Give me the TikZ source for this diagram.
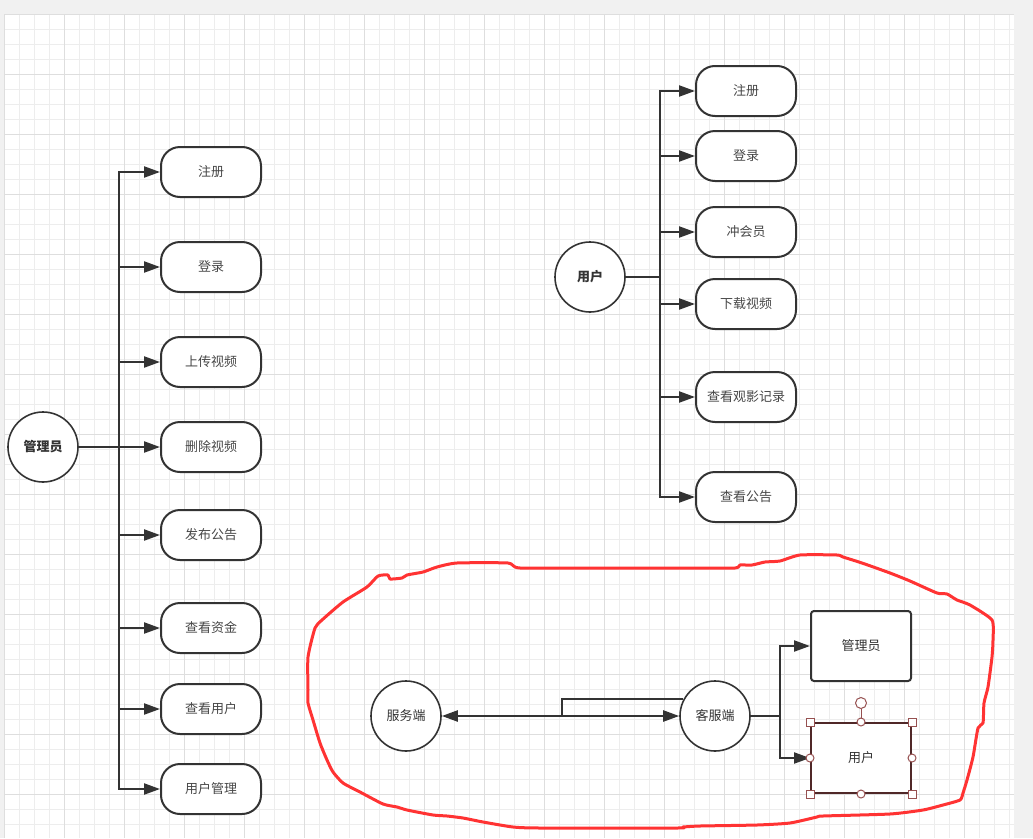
\documentclass[tikz,border=0pt]{standalone}
\usepackage{fontspec}
\newfontfamily\cjk{Noto Sans CJK SC}
\usetikzlibrary{arrows.meta}
\definecolor{ink}{RGB}{51,51,51}
\definecolor{bggray}{RGB}{241,241,241}
\definecolor{gridminor}{RGB}{237,237,237}
\definecolor{gridmajor}{RGB}{222,222,222}
\definecolor{selcol}{RGB}{150,80,80}
\definecolor{selbox}{RGB}{80,40,40}
\definecolor{lassored}{RGB}{255,51,51}
\tikzset{
  op/.style={draw=ink, line width=2pt, rounded corners=19pt, minimum width=100pt, minimum height=50pt, inner sep=0pt, fill=white, text=ink!90},
  role/.style={draw=ink, circle, line width=1.6pt, minimum size=70pt, inner sep=0pt, fill=white, text=ink},
  card/.style={draw=ink, line width=2pt, rounded corners=3pt, minimum width=100pt, minimum height=70pt, inner sep=0pt, fill=white, text=ink},
  link/.style={draw=ink, line width=2.2pt},
  arr/.style={link, -{Triangle[length=16pt,width=11pt]}},
  hsq/.style={draw=selcol, fill=white, line width=1pt, minimum size=8pt, inner sep=0pt},
  hdot/.style={draw=selcol, fill=white, line width=1pt, circle, minimum size=8pt, inner sep=0pt},
  lasso/.style={draw=lassored, line width=3pt, line join=round},
}

\begin{document}
\begin{tikzpicture}[x=1pt, y=-1pt, font=\cjk\fontsize{13}{15}\selectfont]
    \useasboundingbox (0,0) rectangle (1033,838);
    \fill[bggray] (0,0) rectangle (1033,838);
    \fill[white] (4,14) rectangle (1014,838);
    \foreach \gx in {4.7,19.7,...,1012} \draw[gridminor, line width=1pt] (\gx,14) -- (\gx,838);
    \foreach \gy in {14.7,29.7,...,838} \draw[gridminor, line width=1pt] (4,\gy) -- (1014,\gy);
    \foreach \gx in {4.7,64.7,...,1012} \draw[gridmajor, line width=1pt] (\gx,14) -- (\gx,838);
    \foreach \gy in {14.7,74.7,...,838} \draw[gridmajor, line width=1pt] (4,\gy) -- (1014,\gy);

    \node[role] (adm) at(43,447) {\bfseries 管理员};
    \node[op] (a1) at(211,172) {注册};
    \node[op] (a2) at(211,267) {登录};
    \node[op] (a3) at(211,362) {上传视频};
    \node[op] (a4) at(211,447) {删除视频};
    \node[op] (a5) at(211,535) {发布公告};
    \node[op] (a6) at(211,628) {查看资金};
    \node[op] (a7) at(211,709) {查看用户};
    \node[op] (a8) at(211,789) {用户管理};
    \coordinate (lt) at(119,447);
    \draw [link] (adm.east) -- (lt);
    \foreach \b in {a1,a2,a3,a4,a5,a6,a7,a8}
        \draw [arr] (lt) |- (\b.west);

    \node[role] (usr) at(590,277) {\bfseries 用户};
    \node[op] (u1) at(746,91) {注册};
    \node[op] (u2) at(746,156) {登录};
    \node[op] (u3) at(746,232) {冲会员};
    \node[op] (u4) at(746,304) {下载视频};
    \node[op] (u5) at(746,397) {查看观影记录};
    \node[op] (u6) at(746,497) {查看公告};
    \coordinate (rt) at(660,277);
    \draw [link] (usr.east) -- (rt);
    \foreach \b in {u1,u2,u3,u4,u5,u6}
        \draw [arr] (rt) |- (\b.west);

    \draw[lasso] plot[smooth cycle, tension=0.35] coordinates {
        (378,576) (388,575) (390,579) (402,578) (407,575) (423,572) (437,567) (457,563)
        (508,563) (520,568) (600,568) (690,568) (735,568) (740,565) (752,565) (765,562)
        (780,561) (800,555) (837,555) (843,557) (862,563) (890,573) (910,581) (937,593)
        (947,594) (957,600) (970,605) (992,620) (993,640) (992,657) (988,687) (984,703)
        (983,723) (978,728) (973,757) (967,780) (963,793) (960,800) (943,805) (923,810)
        (890,814) (823,816) (817,817) (790,823) (757,825) (700,826) (683,827) (677,828)
        (540,828) (513,827) (483,822) (463,818) (447,816) (433,815) (407,810) (397,807)
        (383,804) (360,792) (343,783) (333,772) (327,760) (320,743) (313,720) (308,703)
        (308,690) (308,657) (315,628) (322,620) (343,602) (367,587)};

    \node[role] (srv) at(406,716) {服务端};
    \node[role] (cli) at(715,716) {客服端};
    \node[card] (badm) at(861,646) {管理员};
    \node[card, draw=selbox, rounded corners=0pt] (busr) at(861,758) {用户};
    \coordinate (bend) at(562,716);
    \coordinate (ct) at(780,716);
    \draw [link, {Triangle[length=16pt,width=11pt]}-{Triangle[length=16pt,width=11pt]}] (srv.east) -- (cli.west);
    \draw [link] (bend) |- (cli.152.8);
    \draw [link] (cli.east) -- (ct);
    \draw [arr] (ct) |- (badm.west);
    \draw [arr] (ct) |- (busr.west);

    \node[hdot, minimum size=11pt] (rot) at(861,703) {};
    \draw [selcol, line width=1pt] (rot) -- (busr.north);
    \node[hsq] (hnw) at(busr.north west) {};
    \node[hsq] (hne) at(busr.north east) {};
    \node[hsq] (hsw) at(busr.south west) {};
    \node[hsq] (hse) at(busr.south east) {};
    \node[hdot] (hn) at(busr.north) {};
    \node[hdot] (hs) at(busr.south) {};
    \node[hdot] (hw) at(busr.west) {};
    \node[hdot] (he) at(busr.east) {};
  \end{tikzpicture}
\end{document}
